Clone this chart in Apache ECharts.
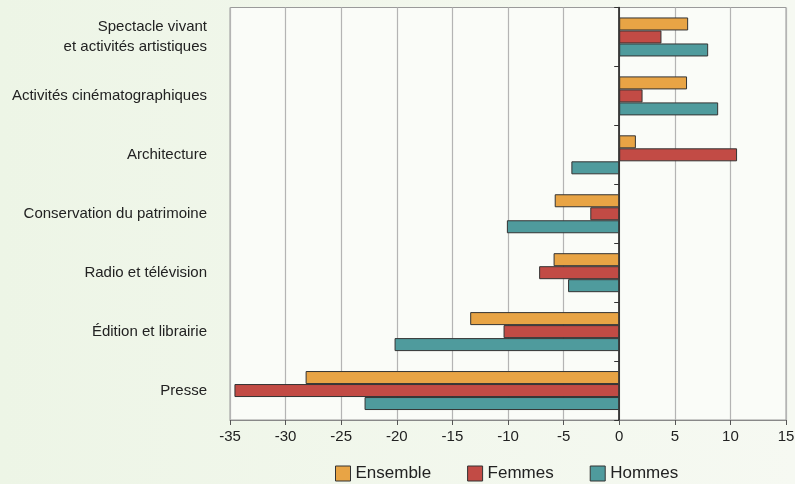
<!DOCTYPE html>
<html>
<head>
<meta charset="utf-8">
<script src="https://cdn.jsdelivr.net/npm/echarts@6/dist/echarts.min.js"></script>
<style>
  html, body { margin: 0; padding: 0; }
  body { background: linear-gradient(to right, #edf5e6, #f6f9f2); }
  #chart { width: 795px; height: 484px; }
</style>
</head>
<body>
<div id="chart"></div>
<script>
// secteurs, de haut en bas
const categories = [
  'Spectacle vivant\net activités artistiques',
  'Activités cinématographiques',
  'Architecture',
  'Conservation du patrimoine',
  'Radio et télévision',
  'Édition et librairie',
  'Presse'
];
const ensemble = [6.2, 6.1, 1.5, -5.8, -5.9, -13.4, -28.2];
const femmes = [3.8, 2.1, 10.6, -2.6, -7.2, -10.4, -34.6];
const hommes = [8.0, 8.9, -4.3, -10.1, -4.6, -20.2, -22.9];
const seriesNames = ['Ensemble', 'Femmes', 'Hommes'];
const colors = ['#e8a445', '#c24b45', '#4f9b9d'];

const font = '"Liberation Sans", Arial, sans-serif';

const chart = echarts.init(document.getElementById('chart'));

function bar(name, data, color) {
  return {
    name: name,
    type: 'bar',
    yAxisIndex: 0,
    barWidth: 13,
    barGap: '0%',
    itemStyle: { color: color, borderColor: '#333', borderWidth: 1 },
    data: data
  };
}

chart.setOption({
  backgroundColor: 'transparent',
  animation: false,
  textStyle: { fontFamily: font },
  grid: {
    left: 230, right: 9, top: 7.5, bottom: 64,
    outerBoundsMode: 'none',
    containLabel: false,
    show: true,
    backgroundColor: '#fafcf8',
    borderColor: '#9a9a9a',
    borderWidth: 1
  },
  legend: {
    left: 330,
    top: 460,
    itemWidth: 15,
    itemHeight: 15,
    itemGap: 36,
    icon: 'rect',
    itemStyle: { borderColor: '#333', borderWidth: 1 },
    textStyle: { fontSize: 17, color: '#222', fontFamily: font },
    data: seriesNames
  },
  xAxis: {
    type: 'value',
    min: -35,
    max: 15,
    interval: 5,
    axisLine: { show: true, lineStyle: { color: '#888' } },
    axisTick: { show: true, length: 5, lineStyle: { color: '#555' } },
    axisLabel: { fontSize: 15, color: '#222', margin: 9, fontFamily: font },
    splitLine: { show: true, lineStyle: { color: '#b4b4b4', width: 1.2 } }
  },
  yAxis: [
    {
      type: 'category',
      inverse: true,
      data: categories,
      axisLine: { show: false, onZero: false },
      axisTick: { show: false },
      axisLabel: { fontSize: 15, color: '#222', margin: 23, lineHeight: 20, fontFamily: font }
    },
    {
      type: 'category',
      inverse: true,
      position: 'left',
      data: categories,
      axisLine: { show: true, onZero: true, lineStyle: { color: '#111', width: 1.5 } },
      axisTick: { show: true, length: 5, lineStyle: { color: '#333' } },
      axisLabel: { show: false }
    }
  ],
  series: [
    bar(seriesNames[0], ensemble, colors[0]),
    bar(seriesNames[1], femmes, colors[1]),
    bar(seriesNames[2], hommes, colors[2])
  ]
});
</script>
</body>
</html>
